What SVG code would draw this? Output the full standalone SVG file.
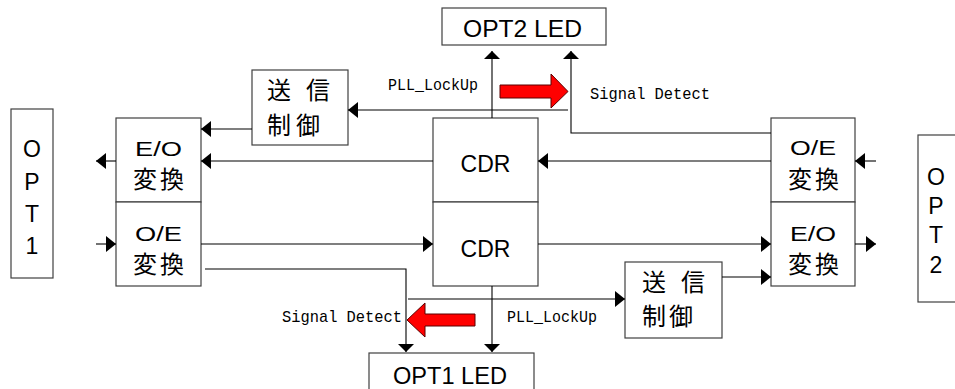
<svg xmlns="http://www.w3.org/2000/svg" width="955" height="389" viewBox="0 0 955 389">
<style>
.box{fill:#fff;stroke:#404040;stroke-width:1.2}
.ln{fill:none;stroke:#000;stroke-width:1.1}
.t{font-family:"Liberation Sans",Arial,sans-serif;font-size:23px;fill:#000}
.e{font-family:"Liberation Sans",Arial,sans-serif;font-size:21px;fill:#000}
.j{font-family:"Noto Sans CJK JP","Liberation Sans",sans-serif;font-size:24px;fill:#000}
.m{font-family:"Liberation Mono","DejaVu Sans Mono",monospace;font-size:17px;fill:#000}
.red{fill:#ff0000;stroke:#5a0000;stroke-width:1}
</style>
<defs>
<marker id="ah" viewBox="0 0 10 16" refX="10" refY="8" markerWidth="10" markerHeight="16" markerUnits="userSpaceOnUse" orient="auto"><path d="M0,0 L10,8 L0,16 z" fill="#000"/></marker>
<marker id="av" viewBox="0 0 8 16" refX="8" refY="8" markerWidth="8" markerHeight="16" markerUnits="userSpaceOnUse" orient="auto"><path d="M0,0 L8,8 L0,16 z" fill="#000"/></marker>
</defs>

<g id="opt1">
<rect class="box" x="11" y="109" width="42" height="169"/>
<text class="t" x="32" y="157" text-anchor="middle">O</text>
<text class="t" x="32" y="190" text-anchor="middle">P</text>
<text class="t" x="32" y="222" text-anchor="middle">T</text>
<text class="t" x="32" y="254" text-anchor="middle">1</text>
</g>

<g id="opt2">
<rect class="box" x="918" y="135" width="44" height="167"/>
<text class="t" x="936" y="185" text-anchor="middle" font-size="21">O</text>
<text class="t" x="936" y="214" text-anchor="middle" font-size="21">P</text>
<text class="t" x="936" y="243" text-anchor="middle" font-size="21">T</text>
<text class="t" x="936" y="273" text-anchor="middle" font-size="21">2</text>
</g>

<g id="opt2led">
<rect class="box" x="442" y="8" width="164" height="37"/>
<text class="t" x="463" y="37" textLength="119" lengthAdjust="spacingAndGlyphs">OPT2 LED</text>
</g>

<g id="opt1led">
<rect class="box" x="369" y="353" width="165" height="40"/>
<text class="t" x="393" y="384" textLength="114" lengthAdjust="spacingAndGlyphs">OPT1 LED</text>
</g>

<g id="eo-left">
<rect class="box" x="116" y="118" width="85" height="84"/>
<text class="e" x="135" y="156" textLength="47" lengthAdjust="spacingAndGlyphs">E/O</text>
<text class="j" x="133" y="188" textLength="51">変換</text>
</g>

<g id="oe-left">
<rect class="box" x="116" y="202" width="85" height="84"/>
<text class="e" x="135" y="241" textLength="47" lengthAdjust="spacingAndGlyphs">O/E</text>
<text class="j" x="133" y="273" textLength="51">変換</text>
</g>

<g id="cdr-top">
<rect class="box" x="433" y="118" width="105" height="84"/>
<text class="t" x="485.5" y="172" text-anchor="middle">CDR</text>
</g>

<g id="cdr-bottom">
<rect class="box" x="433" y="202" width="105" height="84"/>
<text class="t" x="485.5" y="257" text-anchor="middle">CDR</text>
</g>

<g id="oe-right">
<rect class="box" x="771" y="118" width="84" height="84"/>
<text class="e" x="790" y="155" textLength="46" lengthAdjust="spacingAndGlyphs">O/E</text>
<text class="j" x="788" y="188" textLength="51">変換</text>
</g>

<g id="eo-right">
<rect class="box" x="771" y="202" width="84" height="84"/>
<text class="e" x="790" y="241" textLength="46" lengthAdjust="spacingAndGlyphs">E/O</text>
<text class="j" x="788" y="273" textLength="51">変換</text>
</g>

<g id="tx-left">
<rect class="box" x="252" y="70" width="96" height="75"/>
<text class="j" x="267" y="99" textLength="63" font-size="25">送 信</text>
<text class="j" x="267" y="134" textLength="53" font-size="25">制御</text>
</g>

<g id="tx-right">
<rect class="box" x="625" y="262" width="97" height="76"/>
<text class="j" x="642" y="291" textLength="63" font-size="25">送 信</text>
<text class="j" x="642" y="325" textLength="51" font-size="25">制御</text>
</g>

<g id="connectors">
<line class="ln" x1="876" y1="161" x2="855" y2="161" marker-end="url(#ah)"/>
<line class="ln" x1="771" y1="161" x2="538" y2="161" marker-end="url(#ah)"/>
<line class="ln" x1="433" y1="161" x2="201" y2="161" marker-end="url(#ah)"/>
<line class="ln" x1="116" y1="161" x2="96" y2="161" marker-end="url(#ah)"/>
<line class="ln" x1="252" y1="129" x2="201" y2="129" marker-end="url(#ah)"/>
<line class="ln" x1="568" y1="110" x2="348" y2="110" marker-end="url(#ah)"/>
<line class="ln" x1="492" y1="118" x2="492" y2="51" marker-end="url(#av)"/>
<polyline class="ln" points="771,133 571,133 571,51" marker-end="url(#av)"/>
<line class="ln" x1="96" y1="244" x2="116" y2="244" marker-end="url(#ah)"/>
<line class="ln" x1="201" y1="244" x2="433" y2="244" marker-end="url(#ah)"/>
<line class="ln" x1="538" y1="244" x2="771" y2="244" marker-end="url(#ah)"/>
<line class="ln" x1="855" y1="244" x2="876" y2="244" marker-end="url(#ah)"/>
<line class="ln" x1="722" y1="277" x2="771" y2="277" marker-end="url(#ah)"/>
<line class="ln" x1="408" y1="299" x2="625" y2="299" marker-end="url(#ah)"/>
<line class="ln" x1="492" y1="286" x2="492" y2="352" marker-end="url(#av)"/>
<polyline class="ln" points="205,269 406,269 406,352" marker-end="url(#av)"/>
<text class="m" x="388" y="90" textLength="90" lengthAdjust="spacingAndGlyphs">PLL_LockUp</text>
<text class="m" x="590" y="99" textLength="120" lengthAdjust="spacingAndGlyphs">Signal Detect</text>
<text class="m" x="282" y="322" textLength="120" lengthAdjust="spacingAndGlyphs">Signal Detect</text>
<text class="m" x="507" y="322" textLength="90" lengthAdjust="spacingAndGlyphs">PLL_LockUp</text>
<path class="red" d="M500,85 L551,85 L551,74 L568,91.5 L551,108 L551,98 L500,98 z"/>
<path class="red" d="M475,314 L425,314 L425,303 L407,320 L425,337 L425,326 L475,326 z"/>
</g>
</svg>
